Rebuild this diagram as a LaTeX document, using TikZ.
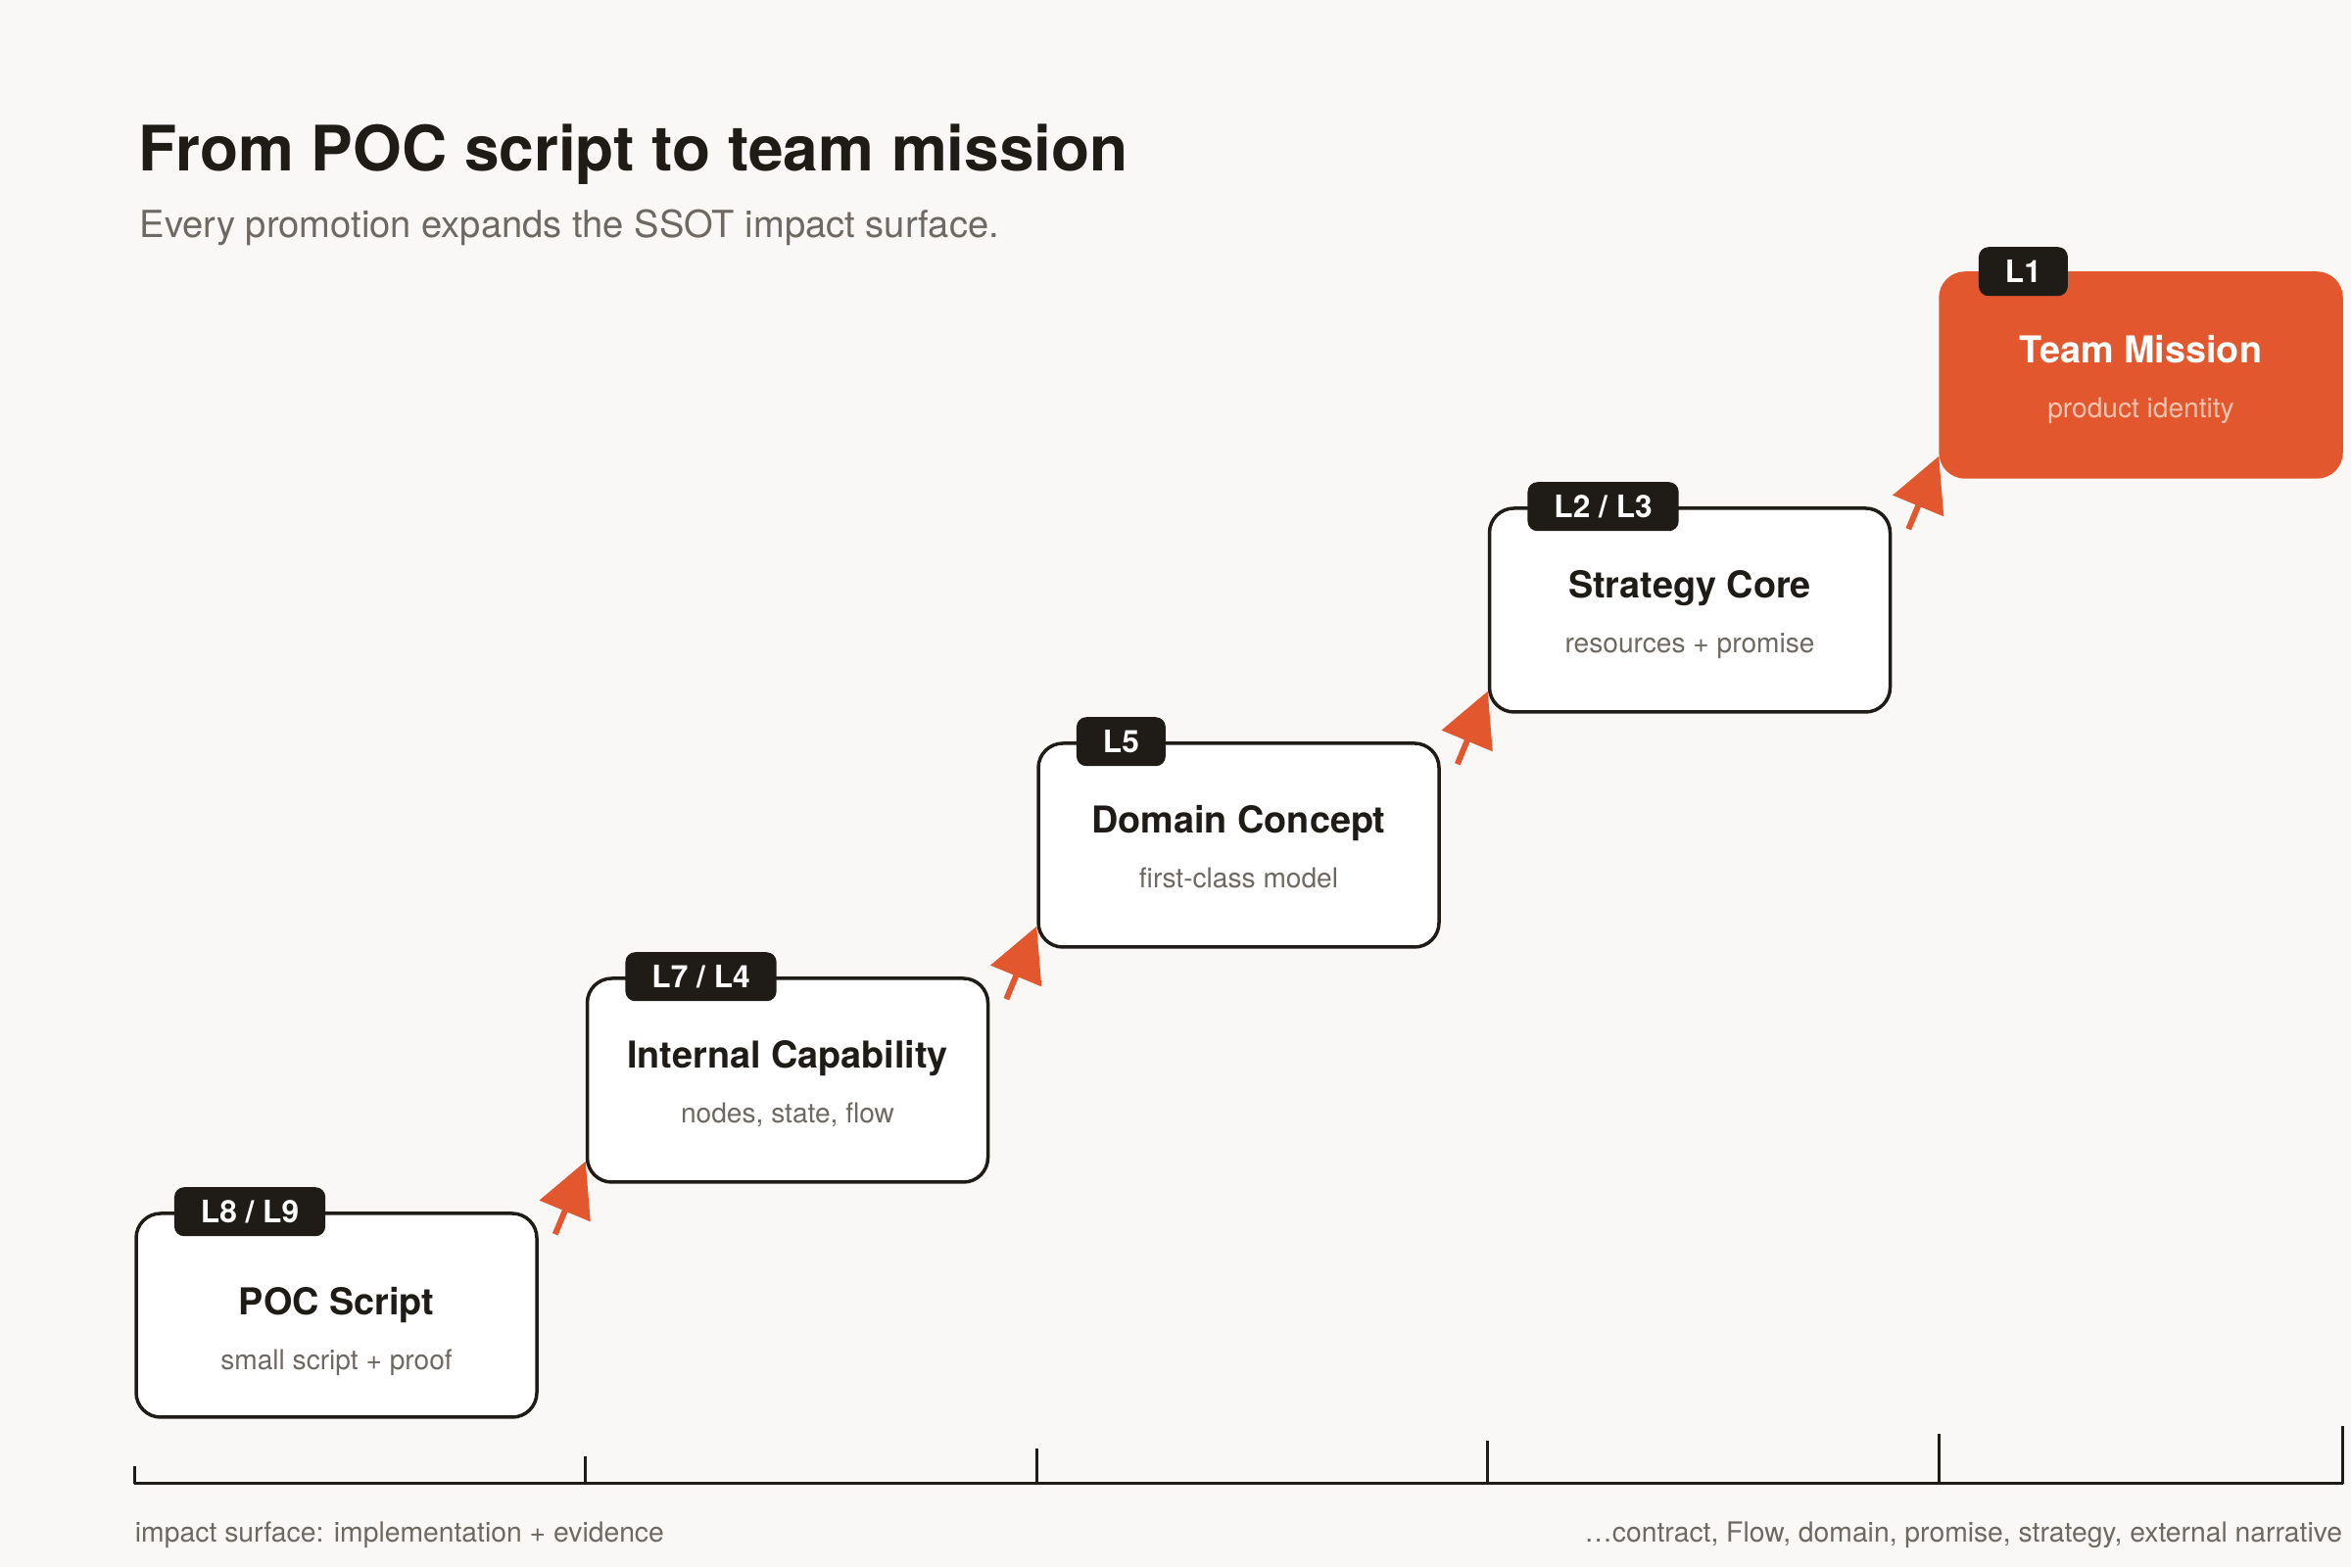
\documentclass[tikz,border=0pt]{standalone}
\usepackage{fontspec}
\setmainfont{TeX Gyre Heros}
\usepackage{xcolor}
\usetikzlibrary{arrows.meta,positioning}

\definecolor{paper}{HTML}{F9F8F6}
\definecolor{ink}{HTML}{1F1B17}
\definecolor{muted}{HTML}{6E6862}
\definecolor{accent}{HTML}{E2572D}
\definecolor{peach}{HTML}{F7C4B0}

\begin{document}
\begin{tikzpicture}[
  node distance=24mm and 46.05mm,
  card/.style={on grid, draw=ink, line width=0.35mm, rounded corners=2.5mm, fill=white,
               minimum width=40.9mm, minimum height=20.8mm, inner sep=0pt},
  goal/.style={card, draw=accent, fill=accent},
  tag/.style={fill=ink, text=white, rounded corners=1mm, anchor=west,
              minimum height=5mm, inner xsep=2.7mm, inner ysep=0pt,
              text height=2.3mm, text depth=0pt,
              font=\fontsize{9}{11}\selectfont\bfseries},
  cardtitle/.style={anchor=base, inner sep=0pt, text=ink,
                    font=\fontsize{10.75}{13}\selectfont\bfseries},
  cardnote/.style={anchor=base, inner sep=0pt, text=muted,
                   font=\fontsize{8}{10}\selectfont},
  promote/.style={-{Triangle[length=5.5mm, width=5.5mm]}, draw=accent, line width=0.6mm},
  tick/.style={draw=ink, line width=0.3mm},
  axisnote/.style={inner sep=0pt, text=muted, font=\fontsize{8.05}{10}\selectfont}
]
\fill[paper] (0,0) rectangle (24,16);
\useasboundingbox (0,0) rectangle (24,16);

% heading
\node[anchor=base west, inner sep=0pt, text=ink, font=\fontsize{18.2}{22}\selectfont\bfseries]
  (title) at (1.41,14.255) {From POC script to team mission};
\node[anchor=base west, inner sep=0pt, text=muted, font=\fontsize{10.85}{13}\selectfont]
  (subtitle) at (1.42,13.574) {Every promotion expands the SSOT impact surface.};

% the five steps
\node[card]                       (poc)     at (3.435,2.57) {};
\node[card, above right=of poc]   (cap)     {};
\node[card, above right=of cap]   (dom)     {};
\node[card, above right=of dom]   (core)    {};
\node[goal, above right=of core]  (mission) {};

\node[cardtitle] (poc-t)  at (poc.center)               {POC Script};
\node[cardnote]  (poc-n)  at ([yshift=-5.6mm]poc.center) {small script + proof};
\node[cardtitle] (cap-t)  at ([yshift=1.2mm]cap.center)  {Internal Capability};
\node[cardnote]  (cap-n)  at ([yshift=-4.4mm]cap.center) {nodes, state, flow};
\node[cardtitle] (dom-t)  at ([yshift=1.2mm]dom.center)  {Domain Concept};
\node[cardnote]  (dom-n)  at ([yshift=-4.4mm]dom.center) {first-class model};
\node[cardtitle] (core-t) at ([yshift=1.2mm]core.center)  {Strategy Core};
\node[cardnote]  (core-n) at ([yshift=-4.4mm]core.center) {resources + promise};
\node[cardtitle, text=white] (mission-t) at ([yshift=1.2mm]mission.center)  {Team Mission};
\node[cardnote, text=peach]  (mission-n) at ([yshift=-4.4mm]mission.center) {product identity};

\node[tag] (poc-l)     at ([xshift=4mm]poc.north west)     {L8 / L9};
\node[tag] (cap-l)     at ([xshift=4mm]cap.north west)     {L7 / L4};
\node[tag] (dom-l)     at ([xshift=4mm]dom.north west)     {L5};
\node[tag] (core-l)    at ([xshift=4mm]core.north west)    {L2 / L3};
\node[tag] (mission-l) at ([xshift=4mm]mission.north west) {L1};

% promotions
\draw[promote] ([xshift=1.7mm, yshift=-2.3mm]poc.north east)  -- ([yshift=2.3mm]cap.south west);
\draw[promote] ([xshift=1.7mm, yshift=-2.3mm]cap.north east)  -- ([yshift=2.3mm]dom.south west);
\draw[promote] ([xshift=1.7mm, yshift=-2.3mm]dom.north east)  -- ([yshift=2.3mm]core.south west);
\draw[promote] ([xshift=1.7mm, yshift=-2.3mm]core.north east) -- ([yshift=2.3mm]mission.south west);

% impact axis
\coordinate (axis) at (0,0.85);
\draw[tick] (poc.south west |- axis) -- (mission.south east |- axis);
\draw[tick] (poc.south west |- axis)      -- ++(0,1.8mm);
\draw[tick] (cap.south west |- axis)      -- ++(0,2.8mm);
\draw[tick] (dom.south west |- axis)      -- ++(0,3.6mm);
\draw[tick] (core.south west |- axis)     -- ++(0,4.4mm);
\draw[tick] (mission.south west |- axis)  -- ++(0,5.1mm);
\draw[tick] (mission.south east |- axis)  -- ++(0,5.9mm);

\node[axisnote, anchor=base west] (low)  at (poc.south west |- 0,0.25)
  {impact surface: implementation + evidence};
\node[axisnote, anchor=base east] (high) at (mission.south east |- 0,0.25)
  {\dots contract, Flow, domain, promise, strategy, external narrative};
\end{tikzpicture}
\end{document}
